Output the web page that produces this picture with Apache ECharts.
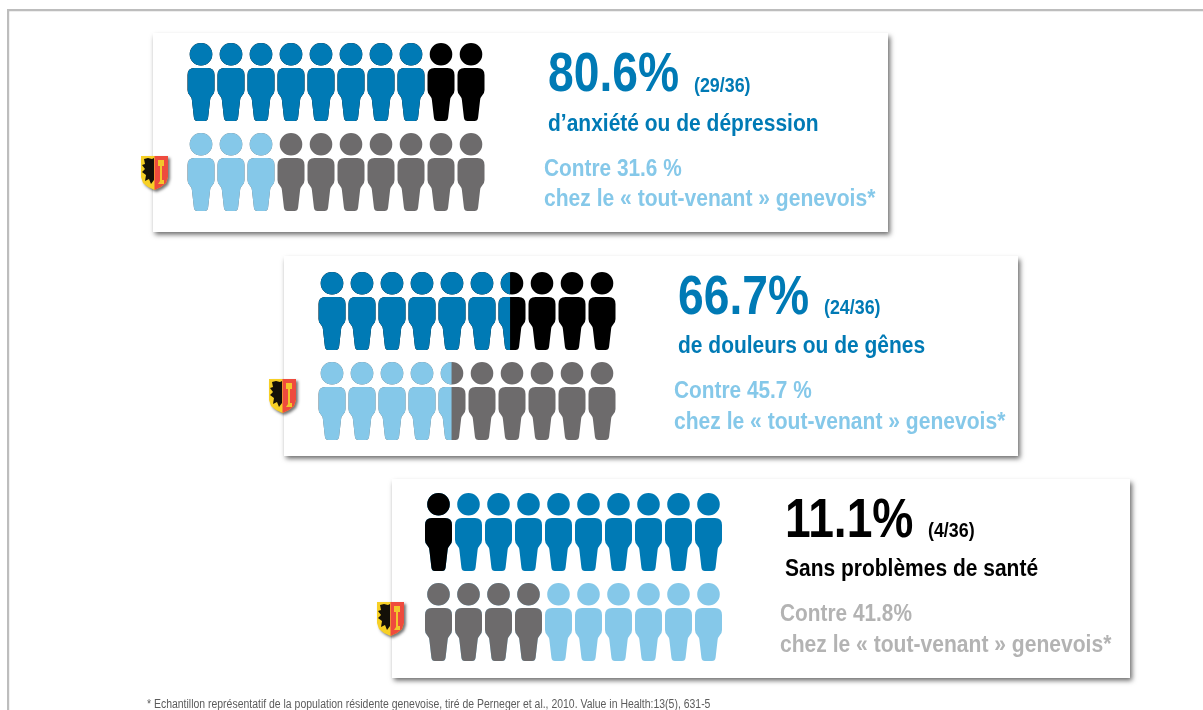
<!DOCTYPE html>
<html><head><meta charset="utf-8">
<style>html,body{margin:0;padding:0;background:#fff}#c{width:1203px;height:710px}</style>
<script src="https://cdn.jsdelivr.net/npm/echarts@6/dist/echarts.min.js"></script>
</head><body><div id="c"></div>
<script>
// ---- data ----
const rows = ['Patients', 'Genève'];
const peopleTotal = 10;
// people filled from the left, per row
const fillPanel1 = [8, 3];
const fillPanel2 = [6.45, 4.48];
const fillPanel3 = [1, 4];
const headline = ['80.6%', '66.7%', '11.1%'];
const counts = ['(29/36)', '(24/36)', '(4/36)'];
const outcome = ['d’anxiété ou de dépression', 'de douleurs ou de gênes', 'Sans problèmes de santé'];
const versus = ['Contre 31.6 %', 'Contre 45.7 %', 'Contre 41.8%'];
const versusTail = 'chez le « tout-venant » genevois*';
const footnote = '* Echantillon représentatif de la population résidente genevoise, tiré de Perneger et al., 2010. Value in Health:13(5), 631-5';

// ---- styles ----
const BLUE = '#007ab5', LIGHT = '#85c8e9', BLACK = '#000000', GREY = '#6d6b6c', PALE = '#b3b3b3';
const FONT = '"Liberation Sans",Arial,sans-serif';
const PERSON = 'path://M13.5 0A11.3 11.3 0 1 1 13.5 22.6A11.3 11.3 0 1 1 13.5 0ZM7 25H20Q27 25 27 32V47Q27 50 25 52Q22.8 54.5 22.6 57L20.6 74.5Q20.2 78 17 78H10Q6.8 78 6.4 74.5L4.4 57Q4.2 54.5 2 52Q0 50 0 47V32Q0 25 7 25Z';

const panels = [
  {rect:[153,33,735,199], gridLeft:187.5, gridTop:37, fill:fillPanel1, front:[BLUE,LIGHT], back:[BLACK,GREY],
   text:{x:548,dy:0,sub:694,cx:544,head:BLUE,v:LIGHT}, arms:[141,156]},
  {rect:[284,256,734,200], gridLeft:318.5, gridTop:266, fill:fillPanel2, front:[BLUE,LIGHT], back:[BLACK,GREY],
   text:{x:678,dy:222.5,sub:824,cx:674,head:BLUE,v:LIGHT}, arms:[269,379]},
  {rect:[392,479,738,199], gridLeft:425, gridTop:487, fill:fillPanel3, front:[BLACK,GREY], back:[BLUE,LIGHT],
   text:{x:785,dy:445.5,sub:928,cx:780,head:BLACK,v:PALE}, arms:[377,602]}
];

const grids=[], xAxes=[], yAxes=[], series=[], graphic=[];

// page frame
graphic.push({type:'rect',silent:true,z:0,shape:{x:7,y:9,width:1196,height:2.2},style:{fill:'#bdbdbd'}});
graphic.push({type:'rect',silent:true,z:0,shape:{x:7,y:9,width:2.2,height:701},style:{fill:'#bdbdbd'}});

function arms(x,y){
  const shield=[[0,0],[27,0],[27,21],[25,27],[20,31],[13.5,34],[7,31],[2,27],[0,21]];
  const right=[[13.5,0],[27,0],[27,21],[25,27],[20,31],[13.5,34]];
  const eagle=[[3,3],[7,2],[11,3],[13,2],[13,24],[10,28],[8,23],[4,25],[5,19],[1,16],[4,13],[1,9],[4,8]];
  const key=[[17,4],[23,4],[23,10],[21,10],[21,24],[23,24],[23,28],[17,28],[19,25],[19,10],[17,10]];
  const poly=(pts,style,z)=>({type:'polygon',silent:true,z:z,shape:{points:pts},style:style});
  return {type:'group',x:x,y:y,silent:true,children:[
    poly(shield,{fill:'#f7d026',shadowBlur:3,shadowColor:'rgba(0,0,0,.55)',shadowOffsetX:2,shadowOffsetY:2},4),
    poly(right,{fill:'#ee4b3e'},5),
    poly(eagle,{fill:'#141008'},6),
    poly(key,{fill:'#f3c62b'},6)
  ]};
}

panels.forEach((p,i)=>{
  const [rx,ry,rw,rh]=p.rect;
  graphic.push({type:'rect',silent:true,z:1,shape:{x:rx,y:ry,width:rw,height:rh},
    style:{fill:'#fff',shadowBlur:5,shadowColor:'rgba(0,0,0,.6)',shadowOffsetX:2,shadowOffsetY:2.5}});
  grids.push({left:p.gridLeft,top:p.gridTop,width:297,height:180});
  xAxes.push({gridIndex:i,type:'value',min:0,max:peopleTotal,show:false});
  yAxes.push({gridIndex:i,type:'category',data:rows,inverse:true,show:false});
  const common={type:'pictorialBar',xAxisIndex:i,yAxisIndex:i,symbol:PERSON,symbolSize:[27,78],
    symbolRepeat:'fixed',symbolMargin:2.9,symbolBoundingData:peopleTotal,symbolPosition:'start',
    symbolOffset:[0,0],barGap:'-100%',barWidth:78,silent:true,animation:false,
    symbolKeepAspect:false};
  series.push(Object.assign({},common,{z:5,name:'rest'+i,
    data:rows.map((r,k)=>({value:peopleTotal,itemStyle:{color:p.back[k]}}))}));
  series.push(Object.assign({},common,{z:6,name:'fill'+i,symbolClip:true,
    data:p.fill.map((v,k)=>({value:v,itemStyle:{color:p.front[k]}}))}));

  const t=p.text;
  const txt=(x,y,s,size,color,sx)=>graphic.push({type:'text',silent:true,z:3,x:x,y:y+t.dy,scaleX:sx||.85,
    style:{text:s,fill:color,font:'bold '+size+'px '+FONT,verticalAlign:'middle',align:'left'}});
  txt(t.x,76,headline[i],55,t.head,.84);
  txt(t.sub,86,counts[i],21,t.head);
  txt(t.x,124,outcome[i],24.7,t.head);
  txt(t.cx,169,versus[i],24.5,t.v);
  txt(t.cx,199.5,versusTail,24.5,t.v,.86);
  graphic.push(arms(p.arms[0],p.arms[1]));
});

graphic.push({type:'text',silent:true,z:3,x:147,y:705,scaleX:.85,
  style:{text:footnote,fill:'#5c5c5c',font:'12.3px '+FONT,verticalAlign:'middle',align:'left'}});

const chart=echarts.init(document.getElementById('c'),null,{renderer:'canvas'});
chart.setOption({animation:false,backgroundColor:'#fff',grid:grids,xAxis:xAxes,yAxis:yAxes,series:series,graphic:graphic});
</script></body></html>
